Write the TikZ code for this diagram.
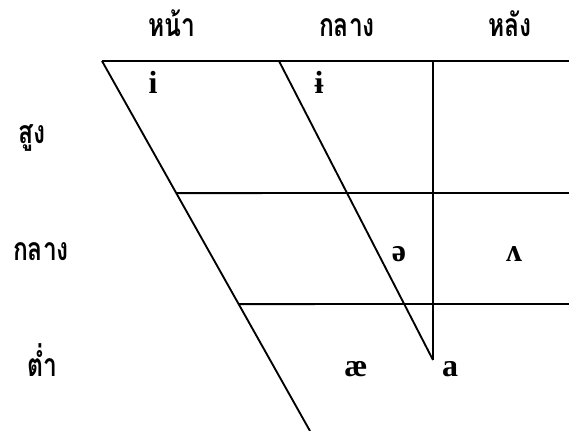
\documentclass[tikz,border=0pt]{standalone}
\usepackage{fontspec}
\usetikzlibrary{calc}
\newfontfamily\thaifont[Script=Thai,FakeStretch=0.77]{Loma}
\newfontfamily\ipafont{Liberation Serif}

\tikzset{every picture/.style={line width=1.4pt}}

\begin{document}
\begin{tikzpicture}[x=0.75pt,y=0.75pt,yscale=-1,
  thailbl/.style={anchor=base,inner sep=0pt,font=\thaifont\bfseries\fontsize{24}{28}\selectfont},
  vowel/.style={anchor=base,inner sep=0pt,font=\ipafont\bfseries\fontsize{24}{29}\selectfont}]
\useasboundingbox (0,0) rectangle (569,431);

%Corners of the chart
\coordinate (tl) at (102,61);
\coordinate (tr) at (569,61);
\coordinate (bl) at (310,431);
\coordinate (tm) at (279,61);
\coordinate (vt) at (433,61);
\coordinate (apex) at (433,360);
\coordinate (hir) at (569,193);
\coordinate (lor) at (569,304);
\coordinate (hil) at ($(tl)!0.357!(bl)$);
\coordinate (lol) at ($(tl)!0.657!(bl)$);

%Straight Lines
\draw (tl) -- (tr);
%Straight Lines
\draw (tl) -- (bl);
%Straight Lines
\draw (tm) -- (apex);
%Straight Lines
\draw (vt) -- (apex);
%Straight Lines
\draw (hil) -- (hir);
%Straight Lines
\draw (lol) -- (lor);

% Text Node
\node (front) [thailbl] at (172,37) {หน้า};
% Text Node
\node (central) [thailbl] at (347,37) {กลาง};
% Text Node
\node (back) [thailbl] at (510,37) {หลัง};
% Text Node
\node (high) [thailbl] at (32,144) {สูง};
% Text Node
\node (mid) [thailbl] at (41,261) {กลาง};
% Text Node
\node (low) [thailbl] at (42,377) {ต่ำ};

% Text Node
\node (vi) [vowel] at (153,94) {i};
% Text Node
\node (vbari) [vowel] at (319,94) {ɨ};
% Text Node
\node (vschwa) [vowel] at (399,262) {ə};
% Text Node
\node (vwedge) [vowel] at (514,262) {ʌ};
% Text Node
\node (vae) [vowel] at (356,377) {æ};
% Text Node
\node (va) [vowel] at (450,377) {a};

\end{tikzpicture}
\end{document}
